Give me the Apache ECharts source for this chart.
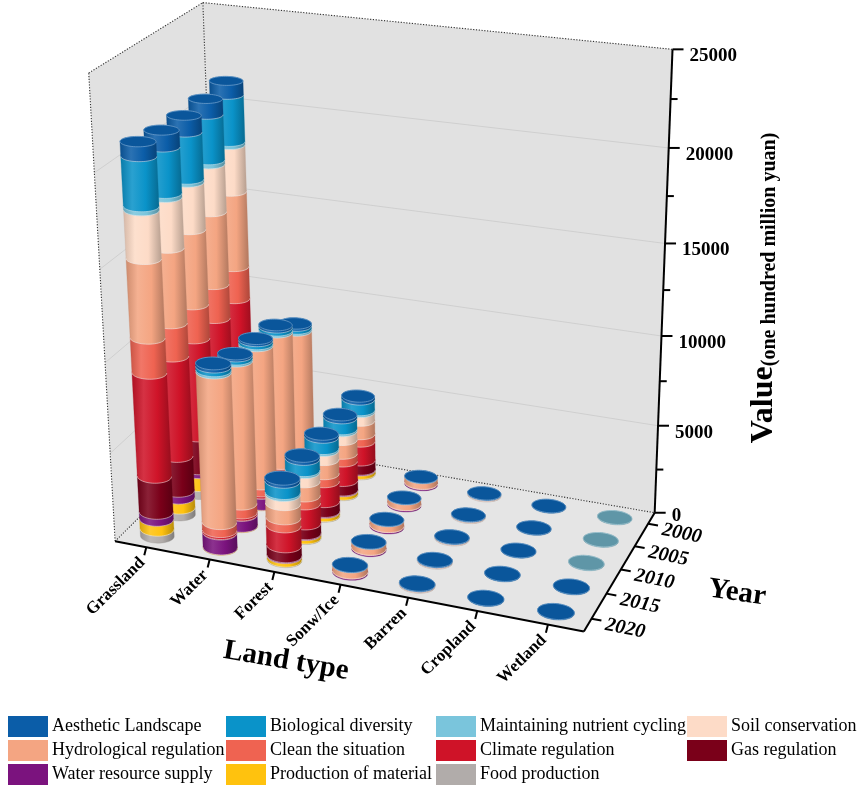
<!DOCTYPE html>
<html>
<head>
<meta charset="utf-8">
<script src="https://cdn.jsdelivr.net/npm/echarts@6/dist/echarts.min.js"></script>
<style>
  html, body { margin: 0; padding: 0; background: #fff; }
  #main { width: 865px; height: 791px; }
</style>
</head>
<body>
<div id="main"></div>
<script>
var landTypes = ['Grassland', 'Water', 'Forest', 'Sonw/Ice', 'Barren', 'Cropland', 'Wetland'];
var years = ['2000', '2005', '2010', '2015', '2020'];
var valueTicks = [0, 5000, 10000, 15000, 20000, 25000];
var valueMax = 25000;

// services, in stacking order from the floor up
var services = ['Food production', 'Production of material', 'Water resource supply', 'Gas regulation',
  'Climate regulation', 'Clean the situation', 'Hydrological regulation', 'Soil conservation',
  'Maintaining nutrient cycling', 'Biological diversity', 'Aesthetic Landscape'];
var colors = ['#b1acaa', '#ffc20e', '#7b137e', '#7a0019', '#cf1328', '#ef6351',
  '#f4a582', '#fddbc7', '#7ac5dc', '#0a93c9', '#0b5da8'];

// one row per year (2000 .. 2020), columns follow `services`
var grassland = [
  [430, 650, 330, 2000, 5780, 1840, 4250, 2580, 170, 2560, 750],
  [430, 650, 330, 1980, 5690, 1920, 4050, 2610, 220, 2440, 840],
  [470, 760, 230, 1920, 5600, 1900, 4120, 2550, 160, 2490, 880],
  [400, 580, 400, 2010, 5650, 1830, 4080, 2690, 210, 2410, 870],
  [400, 570, 400, 2050, 5770, 1900, 4230, 2530, 210, 2560, 750]
];
var water = [
  [0, 20, 600, 30, 100, 380, 6720, 0, 110, 170, 125],
  [0, 20, 640, 30, 110, 400, 7600, 0, 110, 170, 125],
  [0, 20, 650, 30, 115, 405, 7875, 0, 110, 170, 120],
  [0, 20, 630, 30, 110, 510, 8030, 0, 110, 170, 110],
  [0, 20, 850, 30, 110, 450, 8320, 0, 120, 200, 170]
];
var forest = [
  [30, 200, 50, 550, 1120, 440, 790, 510, 110, 620, 170],
  [30, 200, 50, 560, 1140, 450, 800, 510, 110, 630, 170],
  [30, 200, 50, 570, 1150, 460, 810, 520, 110, 640, 170],
  [30, 200, 50, 560, 1140, 450, 800, 520, 110, 630, 170],
  [30, 200, 50, 560, 1120, 450, 790, 510, 110, 620, 170]
];
var snowIce = [
  [0, 0, 70, 0, 0, 15, 330, 0, 0, 0, 25],
  [0, 0, 70, 0, 0, 15, 330, 0, 0, 0, 25],
  [0, 0, 70, 0, 0, 15, 330, 0, 0, 0, 25],
  [0, 0, 70, 0, 0, 15, 330, 0, 0, 0, 25],
  [0, 0, 70, 0, 0, 15, 330, 0, 0, 0, 25]
];
var barren = [
  [15, 0, 0, 0, 0, 0, 45, 0, 0, 0, 50],
  [15, 0, 0, 0, 0, 0, 45, 0, 0, 0, 50],
  [15, 0, 0, 0, 0, 0, 45, 0, 0, 0, 50],
  [15, 0, 0, 0, 0, 0, 45, 0, 0, 0, 50],
  [15, 0, 0, 0, 0, 0, 45, 0, 0, 0, 50]
];
var cropland = [
  [0, 0, 0, 0, 0, 0, 0, 0, 0, 0, 25],
  [0, 0, 0, 0, 0, 0, 0, 0, 0, 0, 25],
  [0, 0, 0, 0, 0, 0, 0, 0, 0, 0, 25],
  [0, 0, 0, 0, 0, 0, 0, 0, 0, 0, 25],
  [0, 0, 0, 0, 0, 0, 0, 0, 0, 0, 25]
];
var wetland = [
  [0, 0, 0, 0, 0, 0, 0, 0, 0, 0, 25],
  [0, 0, 0, 0, 0, 0, 0, 0, 0, 0, 25],
  [0, 0, 0, 0, 0, 0, 0, 0, 0, 0, 25],
  [0, 0, 0, 0, 0, 0, 0, 0, 0, 0, 25],
  [0, 0, 0, 0, 0, 0, 0, 0, 0, 0, 25]
];
var landData = [grassland, water, forest, snowIce, barren, cropland, wetland];

// legend columns, as laid out under the plot
var legendColumns = [
  ['Aesthetic Landscape', 'Hydrological regulation', 'Water resource supply'],
  ['Biological diversity', 'Clean the situation', 'Production of material'],
  ['Maintaining nutrient cycling', 'Climate regulation', 'Food production'],
  ['Soil conservation', 'Gas regulation']
];
var legendLeft = [8, 226, 436, 687];

// wetland discs of the first three years are drawn in a muted teal
var tintedCells = ['6,0', '6,1', '6,2'];
var tintColor = '#67a3b6';

var FONT = '"Times New Roman", "Liberation Serif", serif';
var RX = 0.036, RZ = 0.058; // cylinder radius in floor units

// ---- camera: fit a perspective projection to the box corners of the picture ----
// [x (land), z (year, 0 = back), h (value / max), px, py]
var frameRefs = [
  [0, 1, 0, 117, 542], [1, 1, 0, 583, 632], [1, 0, 0, 655, 510],
  [1, 0, 1, 671, 50], [0, 0, 1, 198, 5], [0, 1, 1, 93, 68],
  [1, 0, 0.2, 662, 425], [1, 0, 0.4, 664, 337], [1, 0, 0.6, 667, 243], [1, 0, 0.8, 668, 150],
  [1, 0.1, 0, 648, 522], [1, 0.3, 0, 634, 545], [1, 0.5, 0, 620, 569], [1, 0.7, 0, 605, 595], [1, 0.9, 0, 590, 620],
  [1 / 14, 1, 0, 148, 548], [3 / 14, 1, 0, 208, 560], [5 / 14, 1, 0, 273, 572], [7 / 14, 1, 0, 340, 585],
  [9 / 14, 1, 0, 408, 598], [11 / 14, 1, 0, 477, 611], [13 / 14, 1, 0, 548, 625]
];

function solve(M, r) {
  var n = r.length, c, k, m, t;
  for (c = 0; c < n; c++) {
    var piv = c;
    for (k = c + 1; k < n; k++) if (Math.abs(M[k][c]) > Math.abs(M[piv][c])) piv = k;
    t = M[c]; M[c] = M[piv]; M[piv] = t;
    t = r[c]; r[c] = r[piv]; r[piv] = t;
    for (k = c + 1; k < n; k++) {
      var f = M[k][c] / M[c][c];
      for (m = c; m < n; m++) M[k][m] -= f * M[c][m];
      r[k] -= f * r[c];
    }
  }
  var x = [];
  for (c = n - 1; c >= 0; c--) {
    var s = r[c];
    for (m = c + 1; m < n; m++) s -= M[c][m] * x[m];
    x[c] = s / M[c][c];
  }
  return x;
}

function fitCamera(refs) {
  var rows = [], rhs = [];
  refs.forEach(function (p) {
    var X = p[0], Z = p[1], H = p[2], u = (p[3] - 400) / 300, v = (p[4] - 400) / 300;
    rows.push([X, Z, H, 1, 0, 0, 0, 0, -u * X, -u * Z, -u * H]); rhs.push(u);
    rows.push([0, 0, 0, 0, X, Z, H, 1, -v * X, -v * Z, -v * H]); rhs.push(v);
  });
  var M = [], r = [];
  for (var a = 0; a < 11; a++) {
    M.push([]);
    for (var b = 0; b < 11; b++) {
      var t = 0;
      for (var k = 0; k < rows.length; k++) t += rows[k][a] * rows[k][b];
      M[a].push(t);
    }
    var s = 0;
    for (k = 0; k < rows.length; k++) s += rows[k][a] * rhs[k];
    r.push(s);
  }
  return solve(M, r);
}

var cam = fitCamera(frameRefs);

function project(x, z, h) {
  var w = cam[8] * x + cam[9] * z + cam[10] * h + 1;
  return [
    (cam[0] * x + cam[1] * z + cam[2] * h + cam[3]) / w * 300 + 400,
    (cam[4] * x + cam[5] * z + cam[6] * h + cam[7]) / w * 300 + 400,
    w
  ];
}
function pt(x, z, h) { var p = project(x, z, h); return [p[0], p[1]]; }

// ---- cylinder helpers ----
function ring(cx, cz, h) {
  var pts = [];
  for (var k = 0; k < 48; k++) {
    var t = k / 48 * Math.PI * 2;
    pts.push(pt(cx + RX * Math.cos(t), cz + RZ * Math.sin(t), h));
  }
  return pts;
}

function convexHull(points) {
  var p = points.slice().sort(function (a, b) { return a[0] - b[0] || a[1] - b[1]; });
  function cross(o, a, b) { return (a[0] - o[0]) * (b[1] - o[1]) - (a[1] - o[1]) * (b[0] - o[0]); }
  var lower = [], upper = [], k;
  for (k = 0; k < p.length; k++) {
    while (lower.length >= 2 && cross(lower[lower.length - 2], lower[lower.length - 1], p[k]) <= 0) lower.pop();
    lower.push(p[k]);
  }
  for (k = p.length - 1; k >= 0; k--) {
    while (upper.length >= 2 && cross(upper[upper.length - 2], upper[upper.length - 1], p[k]) <= 0) upper.pop();
    upper.push(p[k]);
  }
  upper.pop(); lower.pop();
  return lower.concat(upper);
}

// the visible (front) part of a ring is the run of its points on the hull
function frontArc(ringPts, hull) {
  var n = ringPts.length, on = ringPts.map(function (q) { return hull.indexOf(q) >= 0; });
  var best = null;
  for (var k = 0; k < n; k++) {
    if (!on[k] || on[(k - 1 + n) % n]) continue;
    var run = [];
    for (var m = 0; m < n && on[(k + m) % n]; m++) run.push(ringPts[(k + m) % n]);
    if (!best || run.length > best.length) best = run;
  }
  return best;
}

function mix(hex, target, t) {
  var c = echarts.color.parse(hex), d = echarts.color.parse(target);
  return 'rgb(' + [0, 1, 2].map(function (k) { return Math.round(c[k] + (d[k] - c[k]) * t); }).join(',') + ')';
}

function sideFill(c) {
  return new echarts.graphic.LinearGradient(0, 0, 1, 0, [
    { offset: 0, color: mix(c, '#000', 0.16) },
    { offset: 0.3, color: mix(c, '#fff', 0.13) },
    { offset: 0.65, color: c },
    { offset: 1, color: mix(c, '#000', 0.28) }
  ]);
}

// ---- draw order: far cylinders first ----
var cells = [];
landTypes.forEach(function (name, i) {
  years.forEach(function (y, j) {
    cells.push({ key: i + ',' + j, w: project((i + 0.5) / landTypes.length, (j + 0.5) / years.length, 0)[2] });
  });
});
var farSign = project(0, 0, 0)[2] > project(1, 1, 0)[2] ? 1 : -1;
cells.sort(function (a, b) { return farSign * (b.w - a.w); });
var rankOf = {};
cells.forEach(function (c, k) { rankOf[c.key] = k; });

// ---- stack segments per service ----
var seriesData = services.map(function () { return []; });
landData.forEach(function (rows, i) {
  rows.forEach(function (vals, j) {
    var acc = 0, last = -1;
    vals.forEach(function (v, s) { if (v > 0) last = s; });
    vals.forEach(function (v, s) {
      if (v <= 0) return;
      seriesData[s].push([i, j, acc, acc + v, s === last ? 1 : 0, rankOf[i + ',' + j], acc > 0 ? 1 : 0]);
      acc += v;
    });
  });
});

function renderSegment(params, api) {
  var i = api.value(0), j = api.value(1), s = params.seriesIndex;
  var rank = api.value(5);
  var cx = (i + 0.5) / landTypes.length, cz = (j + 0.5) / years.length;
  var c = tintedCells.indexOf(i + ',' + j) >= 0 ? tintColor : colors[s];
  var bottom = ring(cx, cz, api.value(2) / valueMax);
  var top = ring(cx, cz, api.value(3) / valueMax);
  var hull = convexHull(bottom.concat(top));
  var z = rank * 40 + s * 3;
  var children = [{
    type: 'polygon', shape: { points: hull }, z2: z,
    style: { fill: sideFill(c), stroke: mix(c, '#000', 0.2), lineWidth: 0.3 }
  }];
  if (api.value(6)) {
    var arc = frontArc(bottom, hull);
    if (arc && arc.length > 1) {
      children.push({
        type: 'polyline', shape: { points: arc }, z2: z + 1,
        style: { stroke: 'rgba(255,255,255,0.55)', lineWidth: 0.9, fill: null }
      });
    }
  }
  if (api.value(4)) {
    children.push({
      type: 'polygon', shape: { points: top }, z2: rank * 40 + 38,
      style: { fill: mix(c, '#000', 0.08), stroke: mix(c, '#fff', 0.4), lineWidth: 0.8 }
    });
  }
  return { type: 'group', children: children };
}

// ---- box, grid, axes ----
var graphics = [];
function poly(corners, fill) {
  graphics.push({ type: 'polygon', z: 0, silent: true, shape: { points: corners.map(function (q) { return pt(q[0], q[1], q[2]); }) }, style: { fill: fill } });
}
function seg(a, b, style, z) {
  var p = pt(a[0], a[1], a[2]), q = pt(b[0], b[1], b[2]);
  graphics.push({ type: 'line', z: z, silent: true, shape: { x1: p[0], y1: p[1], x2: q[0], y2: q[1] }, style: style });
}
function label(x, y, text, opt) {
  graphics.push({
    type: 'text', z: 12, silent: true, x: x, y: y, rotation: opt.rotation || 0,
    style: {
      text: text, fill: '#000', fontFamily: FONT, fontSize: opt.size, fontWeight: opt.weight || 'bold',
      fontStyle: opt.italic ? 'italic' : 'normal', rich: opt.rich,
      align: opt.align, textAlign: opt.align, verticalAlign: 'middle', textVerticalAlign: 'middle'
    }
  });
}

poly([[0, 1, 0], [0, 0, 0], [0, 0, 1], [0, 1, 1]], '#e1e1e1');
poly([[0, 0, 0], [1, 0, 0], [1, 0, 1], [0, 0, 1]], '#e1e1e1');
poly([[0, 0, 0], [1, 0, 0], [1, 1, 0], [0, 1, 0]], '#e5e5e5');

var gridStyle = { stroke: '#cdcdcd', lineWidth: 0.9 };
valueTicks.slice(1, -1).forEach(function (v) {
  var h = v / valueMax;
  seg([0, 1, h], [0, 0, h], gridStyle, 1);
  seg([0, 0, h], [1, 0, h], gridStyle, 1);
});

var dotted = { stroke: '#333', lineWidth: 1.1, lineDash: [1.2, 1.6] };
seg([0, 1, 0], [0, 1, 1], dotted, 1);
seg([0, 1, 1], [0, 0, 1], dotted, 1);
seg([0, 0, 1], [1, 0, 1], dotted, 1);
seg([0, 0, 1], [0, 0, 0], dotted, 1);
seg([0, 0, 0], [1, 0, 0], dotted, 1);
seg([0, 0, 0], [0, 1, 0], dotted, 1);

var solid = { stroke: '#000', lineWidth: 2 };
seg([0, 1, 0], [1, 1, 0], solid, 10);
seg([1, 1, 0], [1, 0, 0], solid, 10);
seg([1, 0, 0], [1, 0, 1], solid, 10);

// value ticks and labels
for (var v = 0; v <= valueMax; v += 2500) {
  var p = pt(1, 0, v / valueMax), major = v % 5000 === 0;
  graphics.push({ type: 'line', z: 10, silent: true, shape: { x1: p[0], y1: p[1], x2: p[0] + (major ? 11 : 7), y2: p[1] }, style: solid });
}
valueTicks.forEach(function (v) {
  var p = pt(1, 0, v / valueMax);
  label(p[0] + 17, p[1] + (v === 0 ? 3 : 7), String(v), { size: 19, align: 'left' });
});

// year ticks and labels
years.forEach(function (y, j) {
  var z = (j + 0.5) / years.length, a = pt(1, z, 0), b = pt(1.02, z, 0);
  var dx = b[0] - a[0], dy = b[1] - a[1], L = Math.sqrt(dx * dx + dy * dy);
  graphics.push({ type: 'line', z: 10, silent: true, shape: { x1: a[0], y1: a[1], x2: a[0] + dx / L * 10, y2: a[1] + dy / L * 10 }, style: solid });
  label(a[0] + 14, a[1] + 6, y, { size: 20, align: 'left', italic: true, rotation: -0.2 });
});

// land type ticks and labels
landTypes.forEach(function (name, i) {
  var a = pt((i + 0.5) / landTypes.length, 1, 0);
  graphics.push({ type: 'line', z: 10, silent: true, shape: { x1: a[0], y1: a[1], x2: a[0] - 2, y2: a[1] + 8 }, style: solid });
  label(a[0] - 4, a[1] + 13, name, { size: 17, align: 'right', rotation: 0.78 });
});

label(286, 661, 'Land type', { size: 29, align: 'center', rotation: -0.17 });
label(737, 593, 'Year', { size: 29, align: 'center', rotation: -0.14 });
label(763, 288, '{a|Value}{b|(one hundred million yuan)}', {
  size: 30, align: 'center', rotation: Math.PI / 2,
  rich: {
    a: { fontFamily: FONT, fontSize: 32, fontWeight: 'bold', fill: '#000', lineHeight: 34, verticalAlign: 'bottom' },
    b: { fontFamily: FONT, fontSize: 20, fontWeight: 'bold', fill: '#000', lineHeight: 34, verticalAlign: 'bottom' }
  }
});

var series = services.map(function (name, s) {
  return {
    type: 'custom', name: name, coordinateSystem: 'none', silent: true,
    itemStyle: { color: colors[s] },
    renderItem: renderSegment,
    data: seriesData[s]
  };
});

var legends = legendColumns.map(function (names, k) {
  return {
    data: names, orient: 'vertical', left: legendLeft[k], top: 716, padding: 0,
    itemWidth: 40, itemHeight: 21, itemGap: 3, icon: 'rect', selectedMode: false,
    textStyle: { fontFamily: FONT, fontSize: 18, color: '#000', padding: [0, 0, 0, -1] }
  };
});

var myChart = echarts.init(document.getElementById('main'));
myChart.setOption({
  animation: false,
  color: colors,
  legend: legends,
  graphic: { elements: graphics },
  series: series
});
</script>
</body>
</html>
